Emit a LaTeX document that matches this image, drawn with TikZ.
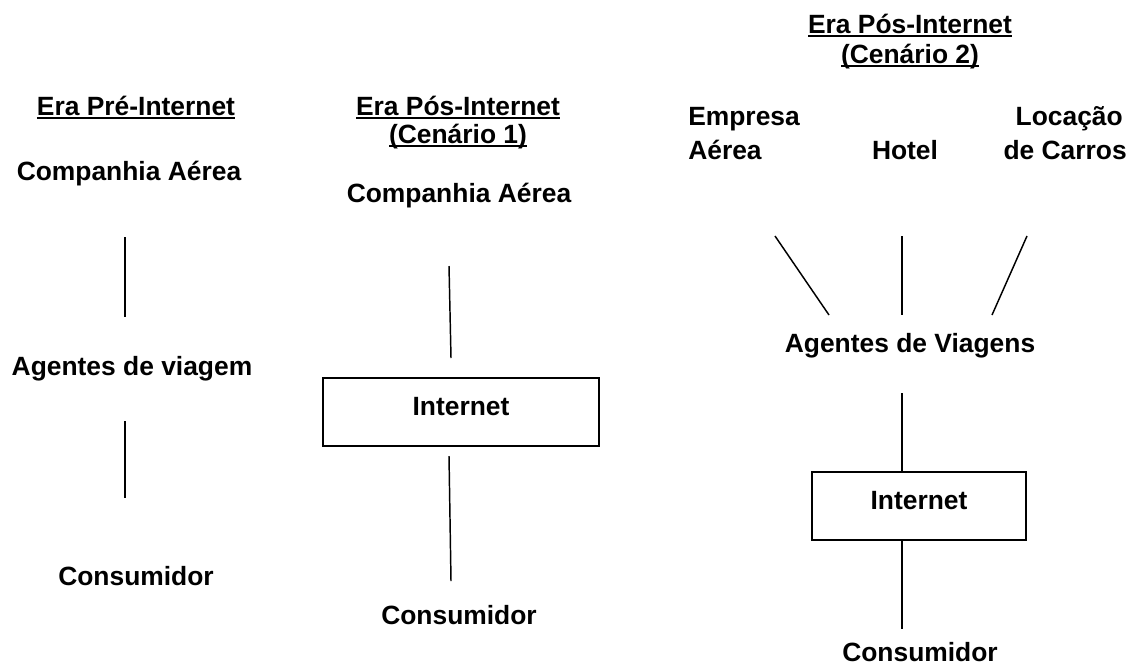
\documentclass[tikz,border=0pt]{standalone}
\usepackage{fontspec}
\setmainfont{Liberation Sans}
\newcommand{\undr}[1]{\setbox0\hbox{#1}\rlap{\rule[-3pt]{\wd0}{1.4pt}}\box0}
\begin{document}
\begin{tikzpicture}[x=0.75pt,y=0.75pt,yscale=-1,xscale=1,
  txt/.style={inner sep=0.75pt,font=\fontsize{19.8}{23}\selectfont\bfseries},
  conn/.style={line width=1.1pt},
  netbox/.style={txt,draw,line width=1.2pt,minimum height=51pt,text height=14pt,text depth=9pt}]
\useasboundingbox (0,0) rectangle (1134,668);

%% Era Pre-Internet
% Text Node
\node [txt,anchor=base] (pre) at (136,115) {\undr{Era Pré-Internet}};
% Text Node
\node [txt,anchor=base] (cia1) at (129,180) {Companhia Aérea};
% Text Node
\node [txt,anchor=base] (agt1) at (132,375) {Agentes de viagem};
% Text Node
\node [txt,anchor=base] (cons1) at (136,585) {Consumidor};
\coordinate (p1a) at (125,237);
\coordinate (p1b) at (125,317);
\coordinate (p1c) at (125,421);
\coordinate (p1d) at (125,498);
%Straight Lines
\draw [conn] (p1a) -- (p1b);
%Straight Lines
\draw [conn] (p1c) -- (p1d);

%% Era Pos-Internet (Cenario 1)
% Text Node
\node [txt,anchor=base] (pos1) at (458,115) {\undr{Era Pós-Internet}};
% Text Node
\node [txt,anchor=base] (cen1) at (458,143) {\undr{(Cenário 1)}};
% Text Node
\node [txt,anchor=base] (cia2) at (459,202) {Companhia Aérea};
% Shape: Rectangle
\node [netbox,minimum width=207pt] (net1) at (461,412) {Internet};
% Text Node
\node [txt,anchor=base] (cons2) at (459,624) {Consumidor};
\coordinate (p2a) at (449,266);
\coordinate (p2b) at (451,358);
\coordinate (p2c) at (449,456);
\coordinate (p2d) at (451,581);
%Straight Lines
\draw [conn] (p2a) -- (p2b);
%Straight Lines
\draw [conn] (p2c) -- (p2d);

%% Era Pos-Internet (Cenario 2)
% Text Node
\node [txt,anchor=base] (pos2) at (910,33) {\undr{Era Pós-Internet}};
% Text Node
\node [txt,anchor=base] (cen2) at (910,63) {\undr{(Cenário 2)}};
% Text Node
\node [txt,anchor=base west] (emp) at (687,125) {Empresa};
\node [txt,anchor=base west] (aer) at (687,159) {Aérea};
% Text Node
\node [txt,anchor=base] (hotel) at (905,159) {Hotel};
% Text Node
\node [txt,anchor=base east] (loc) at (1124,125) {Locação};
\node [txt,anchor=base east] (car) at (1128,159) {de Carros};
% Text Node
\node [txt,anchor=base] (agt3) at (910,352) {Agentes de Viagens};
% Shape: Rectangle
\node [netbox,minimum width=160.5pt] (net2) at (919,506) {Internet};
% Text Node
\node [txt,anchor=base] (cons3) at (920,661) {Consumidor};
\coordinate (p3a) at (775,236);
\coordinate (p3b) at (829,315);
\coordinate (p3c) at (902,236);
\coordinate (p3d) at (902,315);
\coordinate (p3e) at (1027,236);
\coordinate (p3f) at (992,315);
\coordinate (p3g) at (902,393);
\coordinate (p3h) at (902,629);
%Straight Lines
\draw [conn] (p3a) -- (p3b);
\draw [conn] (p3c) -- (p3d);
\draw [conn] (p3e) -- (p3f);
%Straight Lines
\draw [conn] (p3g) -- (p3g |- net2.north);
\draw [conn] (p3g |- net2.south) -- (p3h);

\end{tikzpicture}
\end{document}
